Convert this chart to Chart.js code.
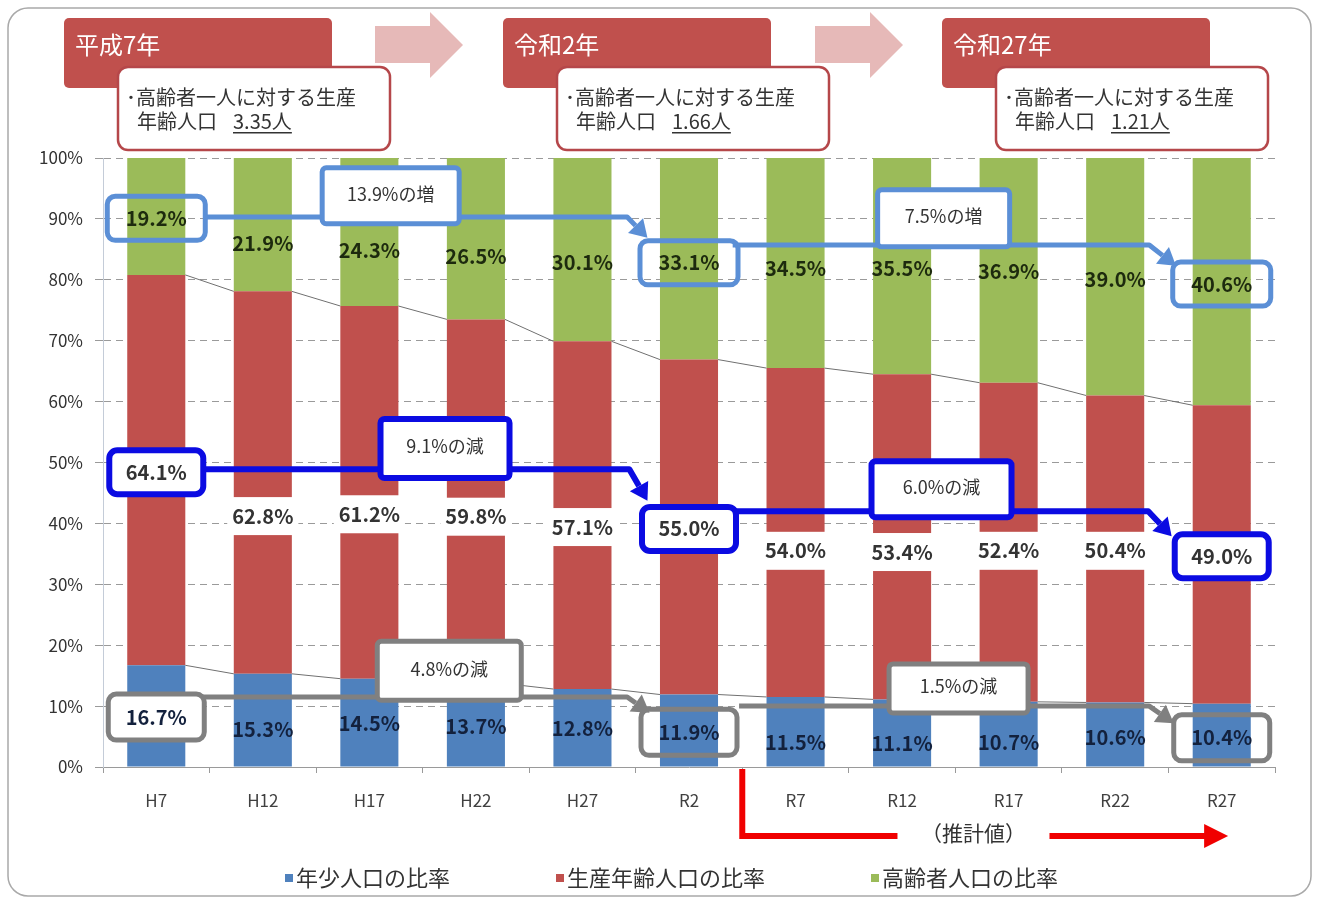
<!DOCTYPE html>
<html lang="ja">
<head>
<meta charset="utf-8">
<title>年齢3区分別人口比率の推移</title>
<script src="https://cdn.jsdelivr.net/npm/chart.js@4.4.1/dist/chart.umd.min.js"></script>
<style>
  html, body { margin: 0; padding: 0; background: #fff; }
</style>
</head>
<body>
<canvas id="canvas" width="1318" height="904"></canvas>
<script>
var years = ['H7', 'H12', 'H17', 'H22', 'H27', 'R2', 'R7', 'R12', 'R17', 'R22', 'R27'];
var youthRate   = [16.7, 15.3, 14.5, 13.7, 12.8, 11.9, 11.5, 11.1, 10.7, 10.6, 10.4];
var workingRate = [64.1, 62.8, 61.2, 59.8, 57.1, 55.0, 54.0, 53.4, 52.4, 50.4, 49.0];
var elderRate   = [19.2, 21.9, 24.3, 26.5, 30.1, 33.1, 34.5, 35.5, 36.9, 39.0, 40.6];
var seriesNames = ['年少人口の比率', '生産年齢人口の比率', '高齢者人口の比率'];

var milestoneIdx    = [0, 5, 10];
var milestoneYears  = ['平成7年', '令和2年', '令和27年'];
var workersPerElder = ['3.35人', '1.66人', '1.21人'];
var estimateFrom  = 6;
var estimateLabel = '（推計値）';

// ---- layout ----
var FONT = '"Noto Sans CJK JP", "Noto Sans", sans-serif';
var seriesColors = ['#4F81BD', '#C0504D', '#9BBB59'];
var labelColors  = ['#13213d', '#333333', '#1d2a0e'];

// value label positions, in percent on the y axis
var youthLabelAt   = [8.2, 6.1, 7.1, 6.7, 6.4, 5.7, 4.1, 3.9, 4.1, 4.9, 4.8];
var workingLabelAt = [48.4, 41.2, 41.5, 41.1, 39.4, 39.1, 35.5, 35.3, 35.5, 35.5, 34.6];
var elderLabelAt   = [90.1, 86.0, 84.9, 83.9, 82.8, 82.8, 81.9, 81.9, 81.3, 80.0, 79.3];

// change call-outs: path points and tag boxes in (category index, percent)
var trendNotes = [
  { ds: 2, color: '#5B8FD6', lw: 5, boxW: 98, boxH: 44, fill: [false, false, false],
    legs: [
      { path: [[0.45, 90.3], [4.42, 90.3], [4.61, 86.9]], tag: [2.20, 93.8, 137, 56] },
      { path: [[5.41, 85.7], [9.32, 85.7], [9.57, 82.3]], tag: [7.39, 90.1, 132, 57] }
    ] },
  { ds: 1, color: '#0B0BE2', lw: 6, boxW: 94, boxH: 44, fill: [true, true, true],
    legs: [
      { path: [[0.43, 48.9], [4.44, 48.9], [4.61, 43.7]], tag: [2.71, 52.3, 129, 59] },
      { path: [[5.43, 42.0], [9.31, 42.0], [9.53, 37.9]], tag: [7.37, 45.6, 140, 56] }
    ] },
  { ds: 0, color: '#808080', lw: 5, boxW: 96, boxH: 46, fill: [true, false, false],
    legs: [
      { path: [[0.39, 11.5], [4.42, 11.5], [4.63, 8.9]], tag: [2.75, 15.8, 144, 59] },
      { path: [[5.47, 10.0], [9.32, 10.0], [9.55, 7.2]], tag: [7.53, 12.9, 139, 49] }
    ] }
];

var rates = [youthRate, workingRate, elderRate];
var labelAt = [youthLabelAt, workingLabelAt, elderLabelAt];

function roundRect(ctx, x, y, w, h, r) {
  ctx.beginPath();
  ctx.moveTo(x + r, y);
  ctx.lineTo(x + w - r, y);
  ctx.arcTo(x + w, y, x + w, y + r, r);
  ctx.lineTo(x + w, y + h - r);
  ctx.arcTo(x + w, y + h, x + w - r, y + h, r);
  ctx.lineTo(x + r, y + h);
  ctx.arcTo(x, y + h, x, y + h - r, r);
  ctx.lineTo(x, y + r);
  ctx.arcTo(x, y, x + r, y, r);
  ctx.closePath();
}

function arrowLine(ctx, pts, color, lw, head) {
  var n = pts.length, p = pts[n - 2], q = pts[n - 1];
  var ang = Math.atan2(q[1] - p[1], q[0] - p[0]);
  var bx = q[0] - Math.cos(ang) * head, by = q[1] - Math.sin(ang) * head;
  var hw = head * 0.62;
  ctx.strokeStyle = color;
  ctx.lineWidth = lw;
  ctx.lineJoin = 'round';
  ctx.beginPath();
  ctx.moveTo(pts[0][0], pts[0][1]);
  for (var i = 1; i < n - 1; i++) ctx.lineTo(pts[i][0], pts[i][1]);
  ctx.lineTo(bx, by);
  ctx.stroke();
  ctx.fillStyle = color;
  ctx.beginPath();
  ctx.moveTo(q[0], q[1]);
  ctx.lineTo(bx + Math.sin(ang) * hw, by - Math.cos(ang) * hw);
  ctx.lineTo(bx - Math.sin(ang) * hw, by + Math.cos(ang) * hw);
  ctx.closePath();
  ctx.fill();
}

var overlay = {
  id: 'overlay',
  afterDatasetsDraw: function(chart) {
    var ctx = chart.ctx, xs = chart.scales.x, ys = chart.scales.y;
    var P = function(pt) { return [xs.getPixelForValue(pt[0]), ys.getPixelForValue(pt[1])]; };
    ctx.save();

    // series lines between the tops of neighbouring bars
    ctx.strokeStyle = '#707070';
    ctx.lineWidth = 1;
    [0, 1].forEach(function(d) {
      var bars = chart.getDatasetMeta(d).data;
      for (var i = 0; i < bars.length - 1; i++) {
        var a = bars[i], b = bars[i + 1];
        ctx.beginPath();
        ctx.moveTo(a.x + a.width / 2, a.y);
        ctx.lineTo(b.x - b.width / 2, b.y);
        ctx.stroke();
      }
    });

    // white plates behind the working-age labels
    ctx.font = 'bold 20px ' + FONT;
    workingRate.forEach(function(v, i) {
      var t = v.toFixed(1) + '%';
      var w = ctx.measureText(t).width + 10;
      var x = xs.getPixelForValue(i), y = ys.getPixelForValue(workingLabelAt[i]);
      ctx.fillStyle = '#fff';
      ctx.fillRect(x - w / 2, y - 19, w, 38);
    });

    // trend arrows and highlighted value boxes
    trendNotes.forEach(function(note) {
      note.legs.forEach(function(leg) {
        arrowLine(ctx, leg.path.map(P), note.color, note.lw, 17);
      });
      milestoneIdx.forEach(function(idx, k) {
        var x = xs.getPixelForValue(idx), y = ys.getPixelForValue(labelAt[note.ds][idx]);
        roundRect(ctx, x - note.boxW / 2, y - note.boxH / 2, note.boxW, note.boxH, 8);
        if (note.fill[k]) { ctx.fillStyle = '#fff'; ctx.fill(); }
        ctx.strokeStyle = note.color;
        ctx.lineWidth = note.lw;
        ctx.stroke();
      });
    });

    // value labels
    ctx.textAlign = 'center';
    ctx.textBaseline = 'middle';
    ctx.font = 'bold 20px ' + FONT;
    rates.forEach(function(arr, d) {
      ctx.fillStyle = labelColors[d];
      arr.forEach(function(v, i) {
        ctx.fillText(v.toFixed(1) + '%', xs.getPixelForValue(i), ys.getPixelForValue(labelAt[d][i]));
      });
    });

    // change tags
    ctx.font = '18px ' + FONT;
    trendNotes.forEach(function(note) {
      note.legs.forEach(function(leg, k) {
        var a = milestoneIdx[k], b = milestoneIdx[k + 1];
        var diff = rates[note.ds][b] - rates[note.ds][a];
        var txt = Math.abs(diff).toFixed(1) + '%の' + (diff > 0 ? '増' : '減');
        var c = P(leg.tag), w = leg.tag[2], h = leg.tag[3];
        roundRect(ctx, c[0] - w / 2, c[1] - h / 2, w, h, 4);
        ctx.fillStyle = '#fff';
        ctx.fill();
        ctx.strokeStyle = note.color;
        ctx.lineWidth = note.lw;
        ctx.stroke();
        ctx.fillStyle = '#333';
        ctx.fillText(txt, c[0], c[1] - 2);
      });
    });
    ctx.restore();
  },

  afterDraw: function(chart) {
    var ctx = chart.ctx, xs = chart.scales.x, ca = chart.chartArea;
    ctx.save();

    // outer frame
    roundRect(ctx, 8, 8, 1303, 888, 20);
    ctx.strokeStyle = '#a9a9a9';
    ctx.lineWidth = 1.5;
    ctx.stroke();

    // year headers with the workers-per-elder boxes
    var headX = [64, 503, 942];
    headX.forEach(function(hx, k) {
      roundRect(ctx, hx, 18, 268, 70, 5);
      ctx.fillStyle = '#C0504D';
      ctx.fill();
      ctx.fillStyle = '#fff';
      ctx.font = '24px ' + FONT;
      ctx.textAlign = 'left';
      ctx.textBaseline = 'middle';
      ctx.fillText(milestoneYears[k], hx + 11, 45);

      var bx = hx + 54;
      roundRect(ctx, bx, 67, 272, 83, 10);
      ctx.fillStyle = '#fff';
      ctx.fill();
      ctx.strokeStyle = '#B5474A';
      ctx.lineWidth = 2.5;
      ctx.stroke();
      ctx.fillStyle = '#333';
      ctx.font = '20px ' + FONT;
      ctx.fillText('･高齢者一人に対する生産', bx + 8, 97);
      ctx.fillText('年齢人口', bx + 19, 121);
      var vx = bx + 115, tw = ctx.measureText(workersPerElder[k]).width;
      ctx.fillText(workersPerElder[k], vx, 121);
      ctx.fillRect(vx, 132, tw, 1.5);
    });

    // pale block arrows between the headers
    [375, 815].forEach(function(ax) {
      ctx.fillStyle = '#E6B9B8';
      ctx.beginPath();
      ctx.moveTo(ax, 26);
      ctx.lineTo(ax + 55, 26);
      ctx.lineTo(ax + 55, 12);
      ctx.lineTo(ax + 88, 45);
      ctx.lineTo(ax + 55, 78);
      ctx.lineTo(ax + 55, 63);
      ctx.lineTo(ax, 63);
      ctx.closePath();
      ctx.fill();
    });

    // projection marker under the axis
    var x0 = xs.getPixelForValue(estimateFrom - 0.5);
    var tx = xs.getPixelForValue(7.67), tip = xs.getPixelForValue(10.06);
    var ry = ca.bottom + 69;
    ctx.strokeStyle = '#F00000';
    ctx.fillStyle = '#F00000';
    ctx.lineWidth = 6;
    ctx.lineJoin = 'miter';
    ctx.beginPath();
    ctx.moveTo(x0, ca.bottom + 2);
    ctx.lineTo(x0, ry);
    ctx.lineTo(tx - 76, ry);
    ctx.stroke();
    ctx.beginPath();
    ctx.moveTo(tx + 76, ry);
    ctx.lineTo(tip - 22, ry);
    ctx.stroke();
    ctx.beginPath();
    ctx.moveTo(tip, ry);
    ctx.lineTo(tip - 24, ry - 12);
    ctx.lineTo(tip - 24, ry + 12);
    ctx.closePath();
    ctx.fill();
    ctx.fillStyle = '#333';
    ctx.font = '21px ' + FONT;
    ctx.textAlign = 'center';
    ctx.textBaseline = 'middle';
    ctx.fillText(estimateLabel, tx, ry - 3);

    // legend
    ctx.font = '22px ' + FONT;
    ctx.textAlign = 'left';
    var gap = 105, widths = seriesNames.map(function(s) { return 12 + ctx.measureText(s).width; });
    var total = widths.reduce(function(a, b) { return a + b; }, 0) + gap * 2;
    var lx = 672 - total / 2, ly = 878;
    seriesNames.forEach(function(s, i) {
      ctx.fillStyle = seriesColors[i];
      ctx.fillRect(lx, ly - 4, 8, 8);
      ctx.fillStyle = '#333';
      ctx.fillText(s, lx + 11, ly);
      lx += widths[i] + gap;
    });
    ctx.restore();
  }
};

function makeSet(i, data) {
  return {
    label: seriesNames[i],
    data: data,
    backgroundColor: seriesColors[i],
    borderWidth: 0,
    barPercentage: 0.545,
    categoryPercentage: 1.0
  };
}

var config = {
  type: 'bar',
  data: {
    labels: years,
    datasets: [makeSet(0, youthRate), makeSet(1, workingRate), makeSet(2, elderRate)]
  },
  options: {
    responsive: false,
    animation: false,
    layout: { padding: { left: 0, right: 43, top: 158, bottom: 97 } },
    plugins: {
      legend: { display: false },
      tooltip: { enabled: false }
    },
    scales: {
      x: {
        stacked: true,
        grid: { drawOnChartArea: false, tickLength: 6, color: '#9a9a9a', offset: true },
        border: { color: '#9a9a9a' },
        ticks: { color: '#404040', padding: 17, font: { family: FONT, size: 17 } },
        afterFit: function(s) { s.height = 40; }
      },
      y: {
        stacked: true,
        min: 0,
        max: 100,
        grid: { color: '#9a9a9a', tickLength: 8, tickBorderDash: [] },
        border: { color: '#c4ccd8', dash: [7, 5] },
        ticks: {
          stepSize: 10,
          color: '#333',
          padding: 12,
          font: { family: FONT, size: 17 },
          callback: function(v) { return v + '%'; }
        },
        afterFit: function(s) { s.width = 103; }
      }
    }
  },
  plugins: [overlay]
};

window.onload = function() {
  var ctx = document.getElementById('canvas').getContext('2d');
  window.myChart = new Chart(ctx, config);
};
</script>
</body>
</html>
